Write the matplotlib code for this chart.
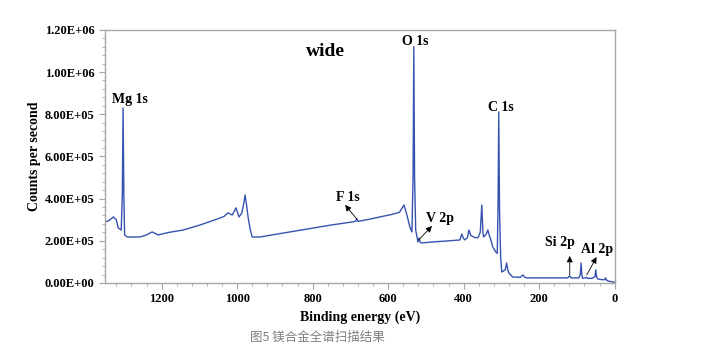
import matplotlib
matplotlib.use("Agg")
import matplotlib.pyplot as plt
from matplotlib.ticker import MultipleLocator, FuncFormatter

# binding energy (eV) and counts per second
energy = [1350, 1340, 1328, 1320, 1315, 1307, 1304, 1302, 1300, 1298, 1291, 1257,
          1240, 1225, 1209, 1180, 1143, 1098, 1053, 1035, 1024, 1013, 1003, 995,
          988, 982, 979, 975, 971, 965, 960, 939, 900, 850, 800, 750, 700, 686,
          683, 680, 650, 622, 590, 570, 558, 550, 542, 537, 534, 532, 530, 527,
          521, 518, 515, 511, 470, 430, 410, 405, 400, 397, 390, 386, 381, 370,
          362, 356, 352, 349, 347, 340, 336, 332, 328, 323, 315, 311, 309, 307,
          305, 302, 299, 290, 286, 283, 280, 270, 250, 243, 238, 233, 200, 160,
          125, 119, 115, 95, 91, 89, 87, 85, 75, 72, 60, 52, 50, 48, 45, 35,
          27, 24, 21, 15, 8, 0]
counts_k = [290, 295, 313, 300, 261, 251, 420, 830, 420, 228, 218, 218,
            228, 242, 228, 240, 251, 275, 303, 315, 332, 322, 356, 313,
            330, 380, 417, 370, 313, 250, 218, 218, 230, 245, 260, 275, 288, 292,
            305, 292, 302, 313, 325, 335, 370, 320, 262, 242, 500, 1120, 500, 250,
            195, 213, 192, 190, 196, 201, 204, 232, 210, 204, 215, 251, 225, 215,
            215, 240, 370, 240, 218, 232, 251, 225, 204, 171, 147, 140, 350, 811,
            350, 120, 52, 62, 95, 60, 47, 28, 27, 38, 27, 24, 24, 24,
            24, 33, 24, 24, 40, 95, 40, 22, 26, 22, 22, 30, 62, 30, 19, 16,
            15, 24, 12, 8, 6, 4]
counts = [c * 1000 for c in counts_k]

# peak labels: text, x, y
peak_labels = ["Mg 1s", "O 1s", "C 1s", "F 1s", "V 2p", "Si 2p", "Al 2p"]
label_x = [1283, 529, 302, 706, 462, 145, 46]
label_y = [868e3, 1143e3, 830e3, 403e3, 308e3, 190e3, 157e3]

# arrows: (from spectrum) -> (towards label)
arrow_from = [(683, 303e3), (519, 204e3), (119, 38e3), (74, 38e3)]
arrow_to = [(714, 370e3), (484, 270e3), (119, 128e3), (48, 123e3)]

serif = "Liberation Serif"
grey = "#a6a6a6"

fig = plt.figure(figsize=(7.24, 3.6), dpi=100)
ax = fig.add_axes([0.145, 0.214, 0.704, 0.703])

ax.plot(energy, counts, color="#3653b0", lw=1.0)

ax.set_xlim(1350, 0)
ax.set_ylim(0, 1.2e6)
ax.xaxis.set_major_locator(MultipleLocator(200))
ax.xaxis.set_minor_locator(MultipleLocator(40))
ax.yaxis.set_major_locator(MultipleLocator(2e5))
ax.yaxis.set_minor_locator(MultipleLocator(4e4))
ax.yaxis.set_major_formatter(FuncFormatter(lambda v, p: "{:.2E}".format(v)))

for s in ax.spines.values():
    s.set_color(grey)
    s.set_linewidth(1.0)
ax.tick_params(which="both", direction="out", color=grey)
ax.tick_params(which="major", length=4, labelsize=9)
ax.tick_params(which="minor", length=2.5)
for lbl in ax.get_xticklabels() + ax.get_yticklabels():
    lbl.set_fontfamily(serif)
    lbl.set_fontweight("bold")

ax.set_xlabel("Binding energy (eV)", fontfamily=serif, fontweight="bold",
              fontsize=10, labelpad=4)
ax.set_ylabel("Counts per second", fontfamily=serif, fontweight="bold",
              fontsize=10, labelpad=3)

ax.text(767, 1.096e6, "wide", fontfamily=serif, fontweight="bold", fontsize=14,
        ha="center", va="center")
for t, x, y in zip(peak_labels, label_x, label_y):
    ax.text(x, y, t, fontfamily=serif, fontweight="bold", fontsize=10,
            ha="center", va="center")

for (x0, y0), (x1, y1) in zip(arrow_from, arrow_to):
    ax.annotate("", xy=(x1, y1), xytext=(x0, y0),
                arrowprops=dict(arrowstyle="-|>", color="black", lw=0.6,
                                mutation_scale=9, shrinkA=0, shrinkB=0))

fig.text(0.438, 0.064, "图5 镁合金全谱扫描结果", fontfamily=["Noto Sans CJK SC", "DejaVu Sans"],
         fontsize=9, color="#808080", ha="center", va="center")

fig.savefig("out.png", dpi=100)
